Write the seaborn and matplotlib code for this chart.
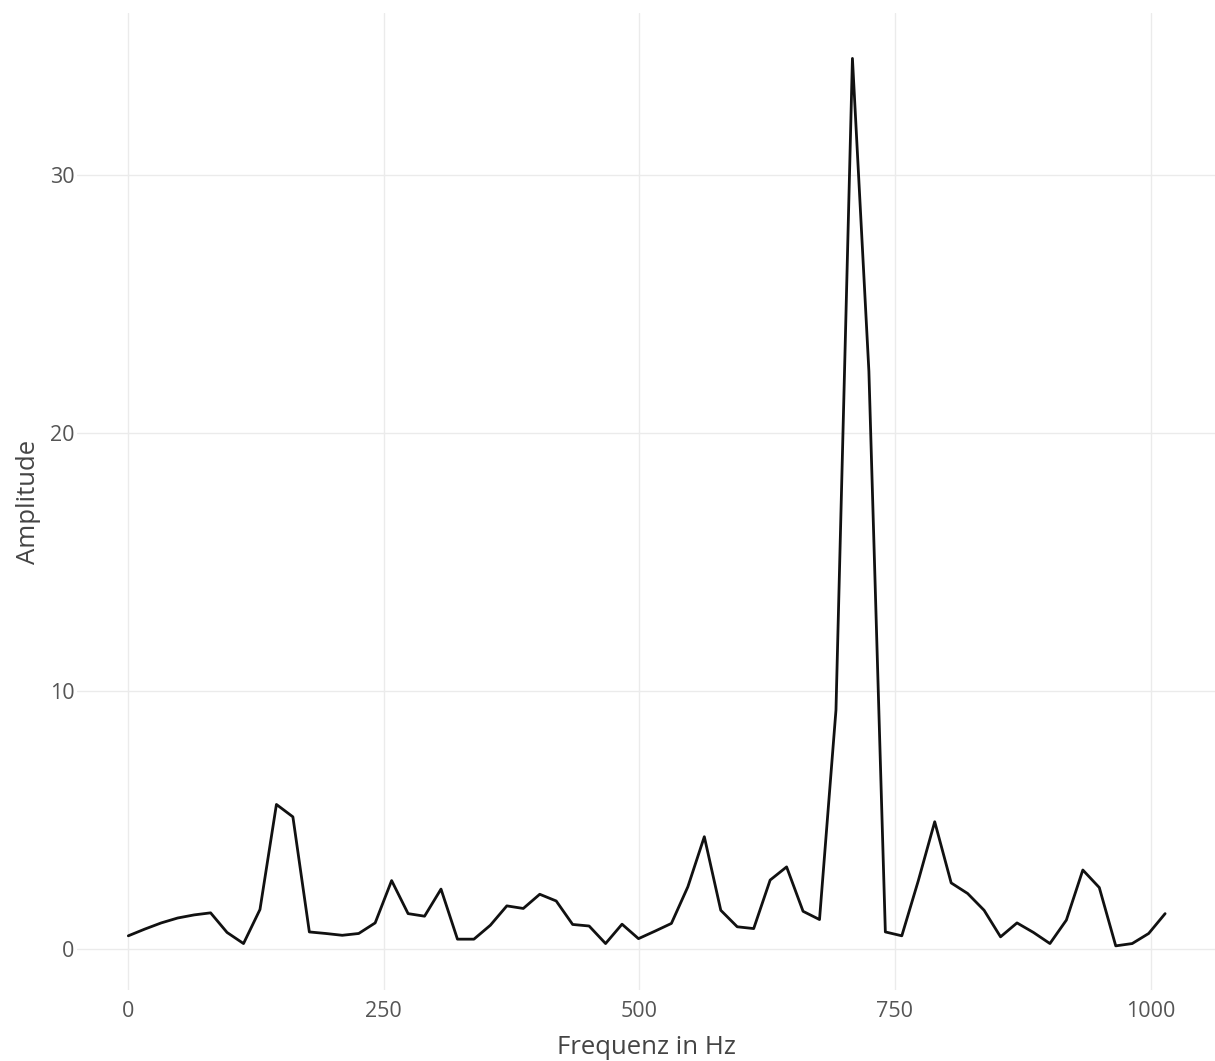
import matplotlib
matplotlib.use("Agg")
import matplotlib.pyplot as plt
import seaborn as sns
import pandas as pd

freq_hz = [0.0, 16.1, 32.2, 48.3, 64.4, 80.5, 96.6, 112.7, 128.8, 144.9,
           161.0, 177.1, 193.2, 209.3, 225.4, 241.5, 257.6, 273.7, 289.8, 305.9,
           322.0, 338.1, 354.2, 370.3, 386.4, 402.5, 418.6, 434.7, 450.8, 466.9,
           483.0, 499.1, 515.2, 531.3, 547.4, 563.5, 579.6, 595.7, 611.8, 627.9,
           644.0, 660.1, 676.2, 692.3, 708.4, 724.5, 740.6, 756.7, 772.8, 788.9,
           805.0, 821.1, 837.2, 853.3, 869.4, 885.5, 901.6, 917.7, 933.8, 949.9,
           966.0, 982.1, 998.2, 1014.3]
amplitude = [0.52, 0.78, 1.02, 1.21, 1.33, 1.41, 0.65, 0.22, 1.54, 5.61,
             5.13, 0.67, 0.61, 0.54, 0.61, 1.02, 2.66, 1.38, 1.28, 2.33,
             0.39, 0.39, 0.93, 1.68, 1.58, 2.13, 1.87, 0.96, 0.90, 0.22,
             0.97, 0.41, 0.70, 1.00, 2.42, 4.36, 1.51, 0.87, 0.80, 2.68,
             3.19, 1.47, 1.15, 9.27, 34.52, 22.4, 0.67, 0.52, 2.65, 4.94,
             2.57, 2.16, 1.51, 0.48, 1.02, 0.65, 0.22, 1.13, 3.07, 2.39,
             0.13, 0.22, 0.61, 1.38]
x_ticks = [0, 250, 500, 750, 1000]
y_ticks = [0, 10, 20, 30]
x_label = "Frequenz in Hz"
y_label = "Amplitude"

df = pd.DataFrame({"f": freq_hz, "a": amplitude})

sns.set_theme(style="white")
plt.rcParams["font.family"] = ["Open Sans", "DejaVu Sans"]

fig = plt.figure(figsize=(12.15, 10.61), dpi=100)
ax = fig.add_axes([77 / 1215, 1 - 990 / 1061, 1 - 77 / 1215, (990 - 13) / 1061])

sns.lineplot(data=df, x="f", y="a", ax=ax, color="#111111", linewidth=2.0)

ax.set_xlim(-50.2, 1063.1)
ax.set_ylim(-1.58, 36.28)
ax.set_xticks(x_ticks)
ax.set_yticks(y_ticks)
ax.grid(True, color="#ebebeb", linewidth=1.0)
ax.set_axisbelow(True)
for s in ax.spines.values():
    s.set_visible(False)
ax.tick_params(axis="both", length=0, labelsize=15.5, labelcolor="#555555")
ax.tick_params(axis="x", pad=8)
ax.tick_params(axis="y", pad=2)

ax.set_xlabel(x_label, fontsize=18.5, color="#444444")
ax.set_ylabel(y_label, fontsize=18.5, color="#444444")
ax.xaxis.set_label_coords((646 - 77) / (1215 - 77), -(1035 - 990) / 977)
ax.yaxis.set_label_coords(-(77 - 41) / (1215 - 77), 0.5)

fig.savefig("out.png", dpi=100)
